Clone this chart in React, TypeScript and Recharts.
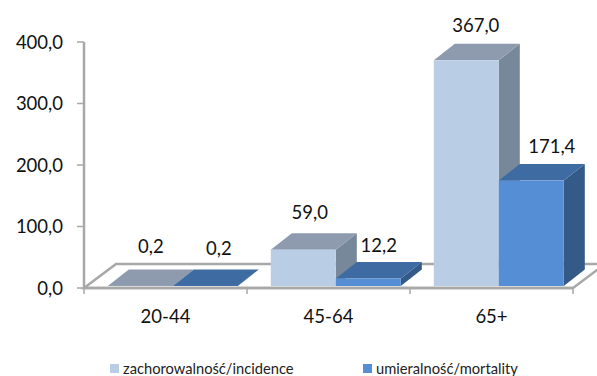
import React from "react";
import { BarChart, Bar, XAxis, YAxis, Legend, LabelList, ReferenceArea } from "recharts";

const categories = ["20-44", "45-64", "65+"];
const incidence = [0.2, 59.0, 367.0];
const mortality = [0.2, 12.2, 171.4];
const yTicks = [0, 100, 200, 300, 400];
const seriesNames = { incidence: "zachorowalność/incidence", mortality: "umieralność/mortality" };

const data = categories.map((category, i) => ({ category, incidence: incidence[i], mortality: mortality[i] }));

const FONT = "Lato, 'Open Sans', sans-serif";
const GREY = "#a8a8a8";
const DX = 21;
const DY = 16.5;
const SHIFT_X = 7.5;
const SHIFT_Y = -2;
const fmt = (v: number) => v.toFixed(1).replace(".", ",");

const makeBox = (front: string, top: string, side: string) => (props: any) => {
  const x = props.x + SHIFT_X;
  const y = props.y + SHIFT_Y;
  const w = props.width;
  const h = props.height;
  return (
    <g>
      <polygon points={`${x + w},${y} ${x + w + DX},${y - DY} ${x + w + DX},${y + h - DY} ${x + w},${y + h}`} fill={side} />
      <polygon points={`${x},${y} ${x + DX},${y - DY} ${x + w + DX},${y - DY} ${x + w},${y}`} fill={top} />
      <rect x={x} y={y} width={w} height={h} fill={front} />
    </g>
  );
};

// label offsets per category, as placed in the source chart
const makeLabel = (offsets: number[][]) => (props: any) => {
  const { x, y, width, value, index } = props;
  const [nx, ny] = offsets[index] || [0, 0];
  return (
    <text
      x={x + SHIFT_X + width / 2 + DX / 2 + nx}
      y={y + SHIFT_Y - DY + ny}
      textAnchor="middle"
      dominantBaseline="central"
      fontFamily={FONT}
      fontSize={18.5}
      fill="#111"
    >
      {fmt(value)}
    </text>
  );
};

const Floor = (props: any) => {
  const { x, y, width, height } = props;
  const b = y + height;
  const backX = 32;
  const backY = 24;
  const boundaries = categories.map((_, i) => x + (width * i) / categories.length).concat(x + width);
  return (
    <g>
      <polygon
        points={`${x},${b} ${x + backX},${b - backY} ${x + width + backX},${b - backY} ${x + width},${b}`}
        fill="#fff"
        stroke={GREY}
        strokeWidth={2.5}
      />
      {boundaries.map((bx) => (
        <line key={bx} x1={bx} x2={bx} y1={b} y2={b + 6} stroke={GREY} strokeWidth={1.5} />
      ))}
    </g>
  );
};

const LegendContent = (props: any) => {
  const lefts = [110, 363];
  return (
    <div style={{ position: "relative", height: 20, fontFamily: FONT, fontSize: 14.7, color: "#222" }}>
      {(props.payload || []).map((e: any, i: number) => (
        <div key={e.value} style={{ position: "absolute", left: lefts[i], top: 0, display: "flex", alignItems: "center", whiteSpace: "nowrap", height: 20 }}>
          <span style={{ width: 9, height: 9, background: e.color, marginRight: 4, display: "inline-block" }} />
          {e.value}
        </div>
      ))}
    </div>
  );
};

export default function App() {
  return (
    <div style={{ position: "absolute", left: 0, top: 0, width: 597, height: 376, overflow: "hidden", background: "#fff" }}>
      <BarChart
        width={597}
        height={376}
        data={data}
        margin={{ top: 42, right: 24, bottom: 48, left: 24 }}
        barCategoryGap="10%"
        barGap={0}
      >
        <ReferenceArea y1={0} y2={400} ifOverflow="visible" shape={Floor} />
        <XAxis
          dataKey="category"
          height={40}
          axisLine={{ stroke: GREY, strokeWidth: 2.5 }}
          tickLine={false}
          tickMargin={16}
          tick={{ fontFamily: FONT, fontSize: 18.5, fill: "#111" }}
        />
        <YAxis
          width={60}
          domain={[0, 400]}
          ticks={yTicks}
          tickFormatter={fmt}
          axisLine={{ stroke: GREY, strokeWidth: 2.5 }}
          tickLine={{ stroke: GREY, strokeWidth: 1.5 }}
          tickSize={7}
          tickMargin={14}
          tick={{ fontFamily: FONT, fontSize: 18.5, fill: "#111" }}
        />
        <Legend
          verticalAlign="middle"
          itemSorter={null}
          content={<LegendContent />}
          wrapperStyle={{ position: "absolute", left: 0, top: 358, width: 597 }}
        />
        <Bar dataKey="incidence" name={seriesNames.incidence} fill="#b9cde5" isAnimationActive={false} shape={makeBox("#b9cde5", "#8e9bae", "#77889a")}>
          <LabelList dataKey="incidence" content={makeLabel([[0, -23], [-4, -21], [-1, -19]])} />
        </Bar>
        <Bar dataKey="mortality" name={seriesNames.mortality} fill="#558ed5" isAnimationActive={false} shape={makeBox("#558ed5", "#3f6ba3", "#345a88")}>
          <LabelList dataKey="mortality" content={makeLabel([[3, -21], [0, -17], [10, -18]])} />
        </Bar>
      </BarChart>
    </div>
  );
}
